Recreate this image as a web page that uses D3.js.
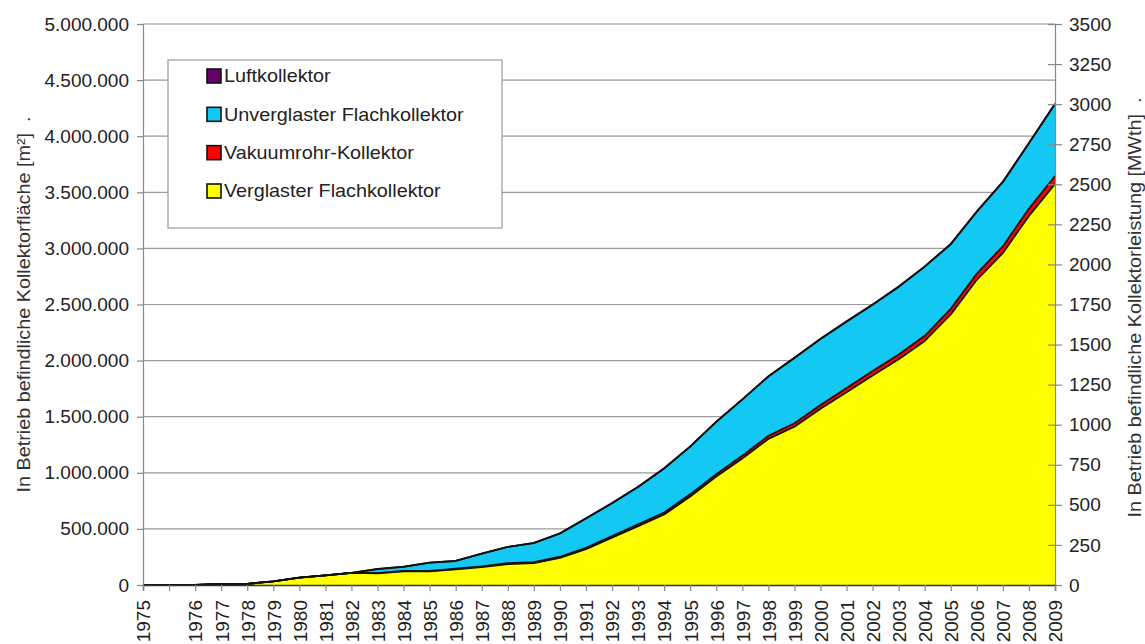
<!DOCTYPE html>
<html>
<head>
<meta charset="utf-8">
<script src="https://cdn.jsdelivr.net/npm/d3@7"></script>
<style>
  html, body { margin: 0; padding: 0; background: #fff; }
  svg { display: block; font-family: "Liberation Sans", Arial, sans-serif; }
  .pre { white-space: pre; }
</style>
</head>
<body>
<svg id="chart" width="1145" height="644"></svg>
<script>
// Categories along the x axis (one unlabeled slot between 1975 and 1976)
const years = ["1975", "", "1976", "1977", "1978", "1979", "1980", "1981", "1982", "1983",
  "1984", "1985", "1986", "1987", "1988", "1989", "1990", "1991", "1992", "1993",
  "1994", "1995", "1996", "1997", "1998", "1999", "2000", "2001", "2002", "2003",
  "2004", "2005", "2006", "2007", "2008", "2009"];

// Collector area in operation, m², per collector type
const verglaster = [0, 0, 0, 10000, 10000, 33000, 66000, 86000, 108000, 104000,
  122000, 122000, 140000, 160000, 186000, 195000, 242000, 320000, 422000, 525000,
  628000, 788000, 966000, 1128000, 1302000, 1410000, 1570000, 1718000, 1868000, 2012000,
  2175000, 2412000, 2720000, 2960000, 3290000, 3575000];
const vakuumrohr = [0, 0, 0, 0, 0, 0, 0, 0, 0, 2000,
  3000, 4000, 5000, 6000, 8000, 9000, 10000, 12000, 14000, 16000,
  18000, 20000, 22000, 25000, 28000, 32000, 35000, 38000, 40000, 43000,
  46000, 50000, 55000, 60000, 65000, 70000];
const unverglaster = [0, 0, 0, 0, 0, 0, 0, 0, 0, 36000,
  37000, 73000, 69000, 113000, 145000, 170000, 207000, 261000, 292000, 333000,
  392000, 425000, 466000, 500000, 528000, 581000, 588000, 591000, 589000, 602000,
  616000, 575000, 552000, 572000, 582000, 642000];
const luft = [0, 0, 0, 0, 0, 0, 0, 0, 0, 1000,
  1000, 1000, 1000, 1000, 1000, 1000, 1000, 2000, 2000, 2000,
  2000, 2000, 2000, 2000, 2000, 2000, 2000, 3000, 3000, 3000,
  3000, 3000, 3000, 3000, 3000, 3000];

// Axis ticks
const leftTicks = [0, 500000, 1000000, 1500000, 2000000, 2500000, 3000000, 3500000, 4000000, 4500000, 5000000];
const rightTicks = [0, 250, 500, 750, 1000, 1250, 1500, 1750, 2000, 2250, 2500, 2750, 3000, 3250, 3500];

const seriesKeys = ["verglaster", "vakuumrohr", "unverglaster", "luft"];
const seriesNames = {
  luft: "Luftkollektor",
  unverglaster: "Unverglaster Flachkollektor",
  vakuumrohr: "Vakuumrohr-Kollektor",
  verglaster: "Verglaster Flachkollektor"
};
const colors = {
  verglaster: "#ffff00",
  vakuumrohr: "#ff0000",
  unverglaster: "#14c8f4",
  luft: "#660066"
};

const rows = years.map((yr, i) => ({
  year: yr,
  verglaster: verglaster[i],
  vakuumrohr: vakuumrohr[i],
  unverglaster: unverglaster[i],
  luft: luft[i]
}));

const svg = d3.select("#chart");
const plotLeft = 143, plotRight = 1055, plotTop = 24, plotBottom = 585;

const x = d3.scalePoint().domain(years).range([plotLeft, plotRight]);
const y = d3.scaleLinear().domain([0, 5000000]).range([plotBottom, plotTop]);
const yR = d3.scaleLinear().domain([0, 3500]).range([plotBottom, plotTop]);

const de = d3.formatLocale({ decimal: ",", thousands: ".", grouping: [3], currency: ["", " €"] });
const fmt = de.format(",");

// Horizontal grid lines
svg.append("g")
  .selectAll("line")
  .data(leftTicks)
  .join("line")
  .attr("x1", plotLeft).attr("x2", plotRight)
  .attr("y1", d => y(d)).attr("y2", d => y(d))
  .attr("stroke", "#9a9a9a").attr("stroke-width", 1.2);

// Stacked areas
const stacked = d3.stack().keys(seriesKeys)(rows);
const area = d3.area()
  .x(d => x(d.data.year))
  .y0(d => y(d[0]))
  .y1(d => y(d[1]));
const topLine = d3.line()
  .x(d => x(d.data.year))
  .y(d => y(d[1]));

const gAreas = svg.append("g");
stacked.forEach(layer => {
  gAreas.append("path")
    .datum(layer)
    .attr("fill", colors[layer.key])
    .attr("d", area);
});
stacked.forEach(layer => {
  gAreas.append("path")
    .datum(layer)
    .attr("fill", "none")
    .attr("stroke", "#111")
    .attr("stroke-width", 1.8)
    .attr("stroke-linejoin", "round")
    .attr("d", topLine);
});

// Left axis
const axL = svg.append("g")
  .attr("transform", `translate(${plotLeft},0)`)
  .call(d3.axisLeft(y).tickValues(leftTicks).tickFormat(fmt).tickSize(6).tickPadding(8));
axL.select(".domain").attr("stroke", "#888").attr("stroke-width", 1.2);
axL.selectAll(".tick line").attr("stroke", "#888").attr("stroke-width", 1.2);
axL.selectAll("text").attr("font-size", 19).attr("fill", "#222")
  .attr("font-family", "'Liberation Sans', Arial, sans-serif");

// Right axis (power), ticks crossing the axis line
const axR = svg.append("g")
  .attr("transform", `translate(${plotRight},0)`)
  .call(d3.axisRight(yR).tickValues(rightTicks).tickFormat(d3.format("d")).tickSize(7).tickPadding(7));
axR.select(".domain").attr("stroke", "#888").attr("stroke-width", 1.2);
axR.selectAll(".tick line").attr("x1", -7).attr("stroke", "#888").attr("stroke-width", 1.2);
axR.selectAll("text").attr("font-size", 19).attr("fill", "#222")
  .attr("font-family", "'Liberation Sans', Arial, sans-serif");

// Bottom axis
const axB = svg.append("g")
  .attr("transform", `translate(0,${plotBottom})`)
  .call(d3.axisBottom(x).tickSize(6).tickPadding(0));
axB.select(".domain").attr("stroke", "#333").attr("stroke-width", 1.4);
axB.selectAll(".tick line").attr("stroke", "#888").attr("stroke-width", 1.2);
axB.selectAll("text")
  .attr("font-size", 19).attr("fill", "#222")
  .attr("font-family", "'Liberation Sans', Arial, sans-serif")
  .attr("text-anchor", "end")
  .attr("transform", "translate(0,15) rotate(-90)")
  .attr("x", 0).attr("y", 0).attr("dy", "0.36em");

// Axis titles (slightly widened lettering)
const midY = (plotTop + plotBottom) / 2;
svg.append("text")
  .attr("class", "pre")
  .attr("transform", `translate(30,${midY}) rotate(-90) scale(1.1,1)`)
  .attr("text-anchor", "middle")
  .attr("font-size", 18)
  .attr("fill", "#333")
  .text("In Betrieb befindliche Kollektorfläche [m²]  .");
svg.append("text")
  .attr("class", "pre")
  .attr("transform", `translate(1141,${midY + 3}) rotate(-90) scale(1.1,1)`)
  .attr("text-anchor", "middle")
  .attr("font-size", 18)
  .attr("fill", "#333")
  .text("In Betrieb befindliche Kollektorleistung [MWth]  .");

// Legend
const legend = svg.append("g");
legend.append("rect")
  .attr("x", 168).attr("y", 60).attr("width", 334).attr("height", 168)
  .attr("fill", "#fff").attr("stroke", "#999").attr("stroke-width", 1.2);
const legendKeys = ["luft", "unverglaster", "vakuumrohr", "verglaster"];
const ly = d3.scalePoint().domain(legendKeys).range([76, 191]);
const items = legend.selectAll("g.item")
  .data(legendKeys)
  .join("g")
  .attr("class", "item")
  .attr("transform", d => `translate(207,${ly(d)})`);
items.append("rect")
  .attr("x", 0).attr("y", -7).attr("width", 14).attr("height", 14)
  .attr("fill", d => colors[d]).attr("stroke", "#111").attr("stroke-width", 1.6);
items.append("text")
  .attr("transform", "translate(17,0) scale(1.1,1)")
  .attr("dy", "0.36em")
  .attr("font-size", 18).attr("fill", "#222")
  .text(d => seriesNames[d]);
</script>
</body>
</html>
